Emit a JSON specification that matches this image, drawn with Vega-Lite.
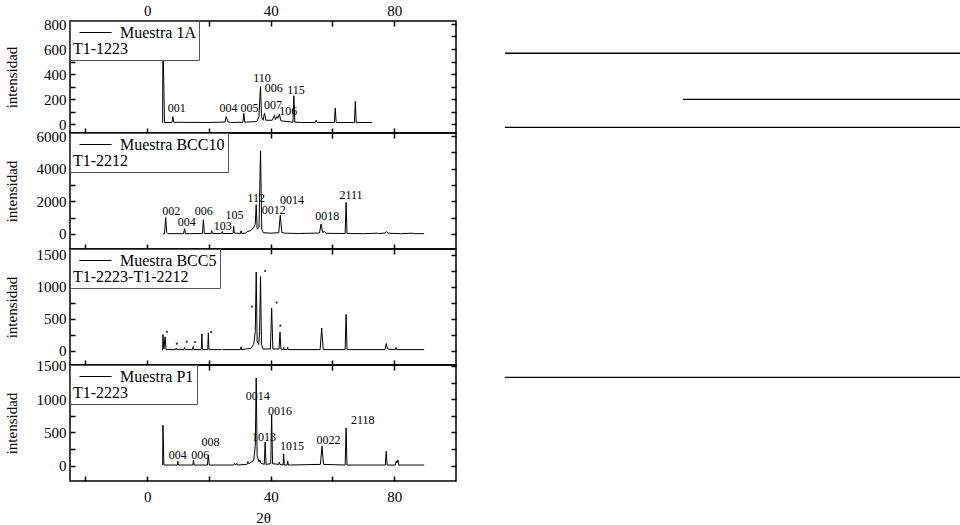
{
  "$schema": "https://vega.github.io/schema/vega-lite/v6.json",
  "padding": {"left": 3, "top": 2, "right": 0, "bottom": 2},
  "spacing": 46,
  "config": {
    "font": "Liberation Serif",
    "view": {"stroke": "black", "strokeWidth": 1.5},
    "axis": {"labelFont": "Liberation Serif", "titleFont": "Liberation Serif", "labelFontSize": 15, "titleFontSize": 15, "titleFontWeight": "normal", "labelColor": "black", "titleColor": "black", "tickColor": "black", "domain": false, "grid": false, "tickSize": -5, "tickWidth": 1.5, "labelPadding": 9},
    "legend": {"labelFont": "Liberation Serif", "titleFont": "Liberation Serif", "labelFontSize": 16, "titleFontSize": 16, "titleFontWeight": "normal", "labelColor": "black", "titleColor": "black", "orient": "top-left", "offset": 0, "titleOrient": "bottom", "titleAnchor": "start", "titlePadding": 0, "symbolType": "M-2,0H2", "symbolSize": 256, "symbolStrokeWidth": 1, "symbolStrokeColor": "#333", "strokeColor": "#555", "fillColor": "white", "padding": 3, "symbolOffset": 14, "labelOffset": 16}
  },
  "datasets": {
    "p1": [{"t":5.0,"i":10},{"t":5.1,"i":700},{"t":5.6,"i":12},{"t":8.0,"i":12},{"t":8.3,"i":60},{"t":8.6,"i":14},{"t":20,"i":12},{"t":25.2,"i":16},{"t":25.6,"i":60},{"t":26.1,"i":18},{"t":27,"i":12},{"t":31.0,"i":14},{"t":31.3,"i":85},{"t":31.6,"i":14},{"t":35.5,"i":20},{"t":36.2,"i":60},{"t":36.5,"i":220},{"t":36.7,"i":300},{"t":37.0,"i":60},{"t":37.5,"i":30},{"t":38.0,"i":88},{"t":38.4,"i":30},{"t":40.5,"i":30},{"t":41.2,"i":70},{"t":41.5,"i":35},{"t":42.0,"i":60},{"t":42.3,"i":45},{"t":42.8,"i":80},{"t":43.3,"i":25},{"t":47.2,"i":15},{"t":47.5,"i":226},{"t":47.8,"i":15},{"t":50,"i":12},{"t":54.4,"i":12},{"t":54.7,"i":30},{"t":55.0,"i":12},{"t":60.6,"i":12},{"t":60.9,"i":128},{"t":61.2,"i":12},{"t":67.1,"i":12},{"t":67.4,"i":181},{"t":67.7,"i":12},{"t":72.8,"i":12}],
    "p2": [{"t":5.1,"i":0},{"t":5.6,"i":20},{"t":6.0,"i":1000},{"t":6.3,"i":100},{"t":6.7,"i":20},{"t":11.8,"i":20},{"t":12.1,"i":325},{"t":12.4,"i":20},{"t":17.9,"i":30},{"t":18.2,"i":875},{"t":18.5,"i":30},{"t":20.7,"i":30},{"t":20.9,"i":200},{"t":21.1,"i":30},{"t":24.1,"i":30},{"t":24.3,"i":150},{"t":24.5,"i":30},{"t":27.8,"i":30},{"t":28.0,"i":470},{"t":28.2,"i":60},{"t":30.2,"i":30},{"t":30.4,"i":200},{"t":30.6,"i":30},{"t":32.0,"i":60},{"t":32.4,"i":150},{"t":33.5,"i":200},{"t":34.5,"i":400},{"t":35.0,"i":600},{"t":35.3,"i":1800},{"t":35.6,"i":300},{"t":36.2,"i":400},{"t":36.7,"i":5100},{"t":37.1,"i":300},{"t":37.6,"i":80},{"t":40,"i":50},{"t":42.6,"i":80},{"t":43.1,"i":1150},{"t":43.6,"i":100},{"t":44.5,"i":50},{"t":49,"i":30},{"t":55.8,"i":60},{"t":56.3,"i":610},{"t":56.8,"i":100},{"t":57.5,"i":150},{"t":58,"i":40},{"t":64.1,"i":30},{"t":64.4,"i":1940},{"t":64.7,"i":30},{"t":70,"i":20},{"t":74.7,"i":50},{"t":75,"i":20},{"t":77.0,"i":60},{"t":77.4,"i":150},{"t":78,"i":50},{"t":82,"i":20},{"t":86,"i":50},{"t":86.5,"i":20},{"t":89.7,"i":20}],
    "p3": [{"t":5.0,"i":10},{"t":5.1,"i":255},{"t":5.4,"i":30},{"t":5.8,"i":220},{"t":6.1,"i":20},{"t":9.2,"i":20},{"t":9.4,"i":45},{"t":9.6,"i":20},{"t":11.9,"i":20},{"t":12.1,"i":55},{"t":12.3,"i":20},{"t":14.7,"i":20},{"t":14.9,"i":70},{"t":15.1,"i":20},{"t":17.5,"i":20},{"t":17.7,"i":257},{"t":17.9,"i":20},{"t":19.6,"i":20},{"t":19.8,"i":283},{"t":20.0,"i":20},{"t":24.1,"i":20},{"t":24.3,"i":27},{"t":24.5,"i":20},{"t":30.2,"i":20},{"t":30.4,"i":62},{"t":30.6,"i":20},{"t":33.5,"i":40},{"t":34.5,"i":100},{"t":35.0,"i":300},{"t":35.3,"i":1230},{"t":35.6,"i":150},{"t":36.1,"i":100},{"t":36.4,"i":300},{"t":36.7,"i":1160},{"t":37.0,"i":100},{"t":37.5,"i":30},{"t":39.9,"i":30},{"t":40.3,"i":665},{"t":40.7,"i":30},{"t":42.7,"i":30},{"t":43.0,"i":292},{"t":43.3,"i":30},{"t":44.0,"i":20},{"t":44.2,"i":55},{"t":44.4,"i":20},{"t":45.3,"i":20},{"t":45.5,"i":55},{"t":45.7,"i":20},{"t":56.0,"i":20},{"t":56.5,"i":357},{"t":57.0,"i":20},{"t":64.1,"i":20},{"t":64.4,"i":570},{"t":64.7,"i":20},{"t":77.0,"i":20},{"t":77.4,"i":116},{"t":77.8,"i":30},{"t":80.4,"i":20},{"t":80.6,"i":55},{"t":80.8,"i":20},{"t":89.7,"i":20}],
    "p4": [{"t":5.0,"i":10},{"t":5.1,"i":610},{"t":5.4,"i":10},{"t":9.7,"i":10},{"t":9.9,"i":65},{"t":10.1,"i":10},{"t":14.8,"i":10},{"t":15.0,"i":87},{"t":15.2,"i":10},{"t":19.5,"i":10},{"t":19.8,"i":157},{"t":20.1,"i":10},{"t":28.0,"i":10},{"t":28.3,"i":35},{"t":28.6,"i":10},{"t":29.0,"i":35},{"t":29.3,"i":10},{"t":32.3,"i":20},{"t":32.6,"i":61},{"t":32.9,"i":30},{"t":34.5,"i":80},{"t":35.0,"i":300},{"t":35.3,"i":1320},{"t":35.6,"i":150},{"t":36.2,"i":60},{"t":36.5,"i":87},{"t":36.8,"i":40},{"t":37.9,"i":20},{"t":38.2,"i":358},{"t":38.5,"i":20},{"t":40.0,"i":30},{"t":40.3,"i":767},{"t":40.6,"i":30},{"t":42.6,"i":20},{"t":42.8,"i":52},{"t":43.0,"i":20},{"t":44.0,"i":10},{"t":44.2,"i":174},{"t":44.4,"i":10},{"t":45.3,"i":10},{"t":45.5,"i":70},{"t":45.7,"i":10},{"t":56.1,"i":20},{"t":56.6,"i":292},{"t":57.1,"i":20},{"t":64.1,"i":10},{"t":64.4,"i":567},{"t":64.7,"i":10},{"t":77.1,"i":10},{"t":77.4,"i":218},{"t":77.7,"i":10},{"t":80.4,"i":10},{"t":80.6,"i":70},{"t":80.9,"i":40},{"t":81.2,"i":87},{"t":81.5,"i":10},{"t":89.7,"i":10}],
    "lab1": [{"t":9.6,"i":128,"l":"001"},{"t":26.3,"i":128,"l":"004"},{"t":33.1,"i":128,"l":"005"},{"t":37.2,"i":365,"l":"110"},{"t":41.0,"i":285,"l":"006"},{"t":40.7,"i":150,"l":"007"},{"t":45.7,"i":108,"l":"106"},{"t":48.2,"i":275,"l":"115"}],
    "lab2": [{"t":7.8,"i":1430,"l":"002"},{"t":12.8,"i":730,"l":"004"},{"t":18.3,"i":1430,"l":"006"},{"t":24.5,"i":470,"l":"103"},{"t":28.3,"i":1180,"l":"105"},{"t":35.3,"i":2200,"l":"112"},{"t":41.0,"i":1490,"l":"0012"},{"t":46.9,"i":2100,"l":"0014"},{"t":58.3,"i":1080,"l":"0018"},{"t":66.0,"i":2370,"l":"2111"}],
    "dots3": [{"t":6.4,"i":297},{"t":9.6,"i":112},{"t":12.8,"i":143},{"t":15.5,"i":138},{"t":17.7,"i":250},{"t":20.7,"i":292},{"t":33.9,"i":692},{"t":38.2,"i":1246},{"t":41.9,"i":754},{"t":43.1,"i":393}],
    "lab4": [{"t":9.9,"i":157,"l":"004"},{"t":17.2,"i":157,"l":"006"},{"t":20.5,"i":351,"l":"008"},{"t":35.8,"i":1043,"l":"0014"},{"t":37.8,"i":432,"l":"1013"},{"t":43.0,"i":827,"l":"0016"},{"t":46.9,"i":291,"l":"1015"},{"t":58.7,"i":391,"l":"0022"},{"t":69.8,"i":683,"l":"2118"}],
    "rules": [{"a":0,"b":100,"r":6.75},{"a":38.9,"b":100,"r":16.4},{"a":0,"b":100,"r":22.25},{"a":0,"b":100,"r":74.55}]
  },
  "hconcat": [
    {
      "spacing": 0,
      "bounds": "flush",
      "resolve": {"scale": {"color": "independent", "y": "independent"}, "legend": {"color": "independent"}},
      "vconcat": [
        {
          "width": 386, "height": 112,
          "layer": [
            {
              "data": {"name": "p1"},
              "mark": {"type": "line", "strokeWidth": 1, "color": "black", "interpolate": "linear"},
              "encoding": {
                "x": {"field": "t", "type": "quantitative", "scale": {"domain": [-25, 100], "nice": false, "zero": false}, "axis": {"orient": "bottom", "values": [-20,0,20,40,60,80], "labels": false, "title": null}},
                "y": {"field": "i", "type": "quantitative", "scale": {"domain": [-72, 824], "nice": false, "zero": false}, "axis": {"orient": "left", "values": [0,100,200,300,400,500,600,700,800], "format": "d", "labelExpr": "datum.value % 200 == 0 ? datum.label : ''", "title": "intensidad", "titleX": -51}},
                "color": {"datum": "Muestra 1A", "type": "nominal", "scale": {"range": ["black"]}, "legend": {"title": "T1-1223"}}
              }
            },
            {
              "data": {"name": "lab1"},
              "mark": {"type": "text", "font": "Liberation Serif", "fontSize": 12, "align": "center", "baseline": "middle", "fill": "black"},
              "encoding": {
                "x": {"field": "t", "type": "quantitative", "axis": {"orient": "top", "values": [-20,0,20,40,60,80], "labelExpr": "datum.value % 40 == 0 && datum.value >= 0 ? datum.label : ''", "title": null, "labelPadding": 8}},
                "y": {"field": "i", "type": "quantitative", "axis": {"orient": "right", "values": [0,100,200,300,400,500,600,700,800], "labels": false, "title": null}},
                "text": {"field": "l"}
              }
            }
          ]
        },
        {
          "width": 386, "height": 116,
          "layer": [
            {
              "data": {"name": "p2"},
              "mark": {"type": "line", "strokeWidth": 1, "color": "black"},
              "encoding": {
                "x": {"field": "t", "type": "quantitative", "scale": {"domain": [-25, 100], "nice": false, "zero": false}, "axis": {"orient": "bottom", "values": [-20,0,20,40,60,80], "labels": false, "title": null}},
                "y": {"field": "i", "type": "quantitative", "scale": {"domain": [-920, 6190], "nice": false, "zero": false}, "axis": {"orient": "left", "values": [0,1000,2000,3000,4000,5000,6000], "format": "d", "labelExpr": "datum.value % 2000 == 0 ? datum.label : ''", "title": "intensidad", "titleX": -51}},
                "color": {"datum": "Muestra BCC10", "type": "nominal", "scale": {"range": ["black"]}, "legend": {"title": "T1-2212"}}
              }
            },
            {
              "data": {"name": "lab2"},
              "mark": {"type": "text", "font": "Liberation Serif", "fontSize": 12, "align": "center", "baseline": "middle", "fill": "black"},
              "encoding": {
                "x": {"field": "t", "type": "quantitative", "axis": {"orient": "top", "values": [-20,0,20,40,60,80], "labels": false, "title": null}},
                "y": {"field": "i", "type": "quantitative", "axis": {"orient": "right", "values": [0,1000,2000,3000,4000,5000,6000], "labels": false, "title": null}},
                "text": {"field": "l"}
              }
            }
          ]
        },
        {
          "width": 386, "height": 116,
          "layer": [
            {
              "data": {"name": "p3"},
              "mark": {"type": "line", "strokeWidth": 1, "color": "black"},
              "encoding": {
                "x": {"field": "t", "type": "quantitative", "scale": {"domain": [-25, 100], "nice": false, "zero": false}, "axis": {"orient": "bottom", "values": [-20,0,20,40,60,80], "labels": false, "title": null}},
                "y": {"field": "i", "type": "quantitative", "scale": {"domain": [-220, 1590], "nice": false, "zero": false}, "axis": {"orient": "left", "values": [0,250,500,750,1000,1250,1500], "format": "d", "labelExpr": "datum.value % 500 == 0 ? datum.label : ''", "title": "intensidad", "titleX": -51}},
                "color": {"datum": "Muestra BCC5", "type": "nominal", "scale": {"range": ["black"]}, "legend": {"title": "T1-2223-T1-2212"}}
              }
            },
            {
              "data": {"name": "dots3"},
              "mark": {"type": "point", "filled": true, "size": 5, "color": "#333", "opacity": 1},
              "encoding": {
                "x": {"field": "t", "type": "quantitative", "axis": {"orient": "top", "values": [-20,0,20,40,60,80], "labels": false, "title": null}},
                "y": {"field": "i", "type": "quantitative", "axis": {"orient": "right", "values": [0,250,500,750,1000,1250,1500], "labels": false, "title": null}}
              }
            }
          ]
        },
        {
          "width": 386, "height": 116,
          "layer": [
            {
              "data": {"name": "p4"},
              "mark": {"type": "line", "strokeWidth": 1, "color": "black"},
              "encoding": {
                "x": {"field": "t", "type": "quantitative", "scale": {"domain": [-25, 100], "nice": false, "zero": false}, "axis": {"orient": "bottom", "values": [-20,0,20,40,60,80], "labelExpr": "datum.value % 40 == 0 && datum.value >= 0 ? datum.label : ''", "title": "2θ", "titlePadding": 6, "labelPadding": 13}},
                "y": {"field": "i", "type": "quantitative", "scale": {"domain": [-230, 1515], "nice": false, "zero": false}, "axis": {"orient": "left", "values": [0,250,500,750,1000,1250,1500], "format": "d", "labelExpr": "datum.value % 500 == 0 ? datum.label : ''", "title": "intensidad", "titleX": -51}},
                "color": {"datum": "Muestra P1", "type": "nominal", "scale": {"range": ["black"]}, "legend": {"title": "T1-2223"}}
              }
            },
            {
              "data": {"name": "lab4"},
              "mark": {"type": "text", "font": "Liberation Serif", "fontSize": 12, "align": "center", "baseline": "middle", "fill": "black"},
              "encoding": {
                "x": {"field": "t", "type": "quantitative", "axis": {"orient": "top", "values": [-20,0,20,40,60,80], "labels": false, "title": null}},
                "y": {"field": "i", "type": "quantitative", "axis": {"orient": "right", "values": [0,250,500,750,1000,1250,1500], "labels": false, "title": null}},
                "text": {"field": "l"}
              }
            }
          ]
        }
      ]
    },
    {
      "width": 458, "height": 478,
      "view": {"stroke": null},
      "data": {"name": "rules"},
      "mark": {"type": "rule", "color": "black", "strokeWidth": 1.3},
      "encoding": {
        "x": {"field": "a", "type": "quantitative", "scale": {"domain": [0, 100], "nice": false, "zero": false}, "axis": null},
        "x2": {"field": "b"},
        "y": {"field": "r", "type": "quantitative", "scale": {"domain": [0, 100], "reverse": true, "nice": false, "zero": false}, "axis": null}
      }
    }
  ]
}
